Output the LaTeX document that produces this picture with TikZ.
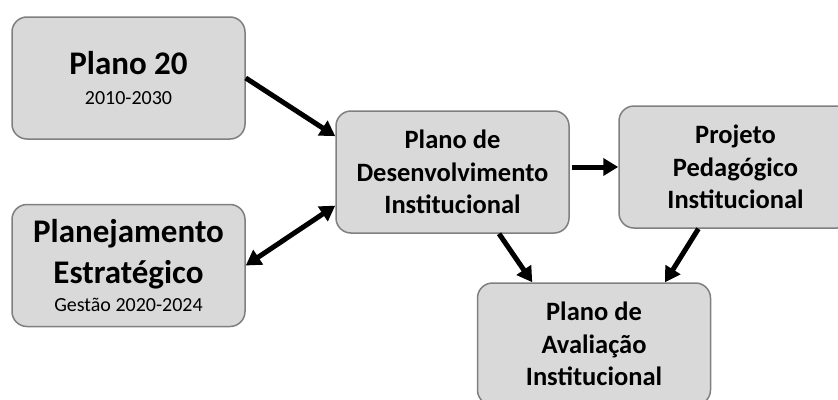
\documentclass[tikz,border=0pt]{standalone}
\usepackage{fontspec}
\setmainfont{Carlito}
\usetikzlibrary{arrows.meta}
\newlength{\du}
\setlength{\du}{1pt}

\begin{document}
\begin{tikzpicture}
\pgftransformxscale{1.000000}
\pgftransformyscale{-1.000000}
\definecolor{boxfillcolor}{rgb}{0.850980, 0.850980, 0.850980}
\definecolor{boxlinecolor}{rgb}{0.498039, 0.498039, 0.498039}
\tikzset{
  planbox/.style={draw=boxlinecolor, fill=boxfillcolor, line width=1.5\du,
    rounded corners=15\du, minimum width=233\du, minimum height=122\du,
    inner sep=0pt, align=center, text=black},
  plantext/.style={font=\fontsize{26.5}{32.3}\selectfont\bfseries},
  planarrow/.style={line width=5\du, -{Triangle[length=15pt,width=17pt]}},
  planarrows/.style={line width=5\du, {Triangle[length=15pt,width=17pt]}-{Triangle[length=15pt,width=17pt]}}
}
\useasboundingbox (0\du,0\du) rectangle (838\du,399\du);
\clip (0\du,0\du) rectangle (838\du,399\du);
% boxes
\node[planbox, font=\fontsize{20}{30}\selectfont] (plano20) at (128.500000\du,78.000000\du){{\fontsize{33}{36}\selectfont\bfseries Plano 20}\\2010-2030};
\node[planbox, font=\fontsize{20}{28}\selectfont] (estrategico) at (128.500000\du,265.500000\du){{\fontsize{33}{36}\selectfont\bfseries Planejamento}\\[12\du]{\fontsize{33}{36}\selectfont\bfseries Estratégico}\\Gestão 2020-2024};
\node[planbox, plantext] (pdi) at (452.500000\du,172.000000\du){Plano de\\Desenvolvimento\\Institucional};
\node[planbox, plantext] (ppi) at (735.500000\du,167.000000\du){Projeto\\Pedagógico\\Institucional};
\node[planbox, plantext] (pai) at (594.000000\du,344.000000\du){Plano de\\Avaliação\\Institucional};
% connectors
\draw[planarrow] (plano20.east) -- (pdi.163);
\draw[planarrows] (estrategico.east) -- (pdi.196);
\draw[planarrow] ([xshift=2\du]pdi.east |- ppi.west) -- (ppi.west);
\draw[planarrow] (pdi.-53) -- (pai.135);
\draw[planarrow] (ppi.239) -- (pai.41);
\end{tikzpicture}
\end{document}
